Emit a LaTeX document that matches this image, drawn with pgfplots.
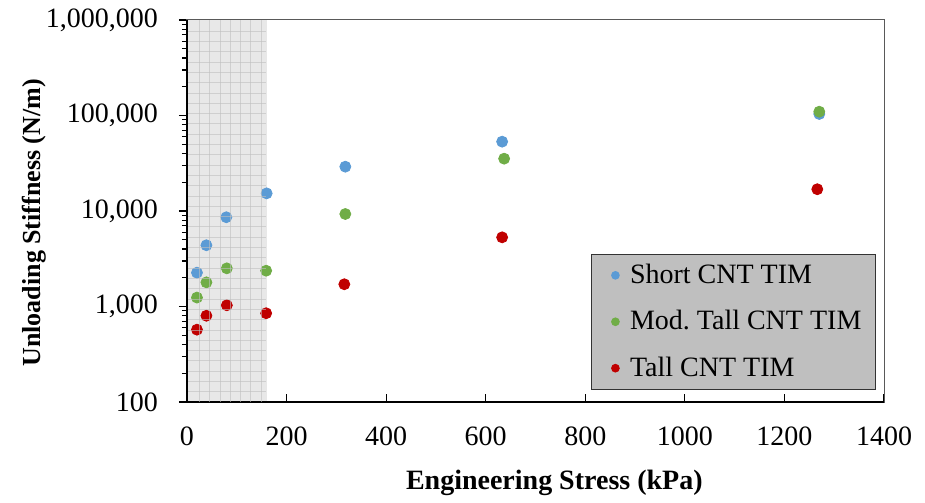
\documentclass[border=0pt]{standalone}
\usepackage{pgfplots}
\pgfplotsset{compat=1.18}
\usetikzlibrary{calc}
\usepackage{fontspec}
\setmainfont{Liberation Serif}

\definecolor{shortc}{RGB}{91,155,213}
\definecolor{modc}{RGB}{112,173,71}
\definecolor{tallc}{RGB}{192,0,0}
\definecolor{legfill}{RGB}{191,191,191}

\begin{document}
\begin{tikzpicture}
\begin{axis}[
    scale only axis,
    width=348.5pt, height=191pt,
    xmin=0, xmax=1400,
    ymode=log, ymin=100, ymax=1000000,
    xtick={0,200,...,1400},
    ytick={100,1000,10000,100000,1000000},
    yticklabels={100,{1,000},{10,000},{100,000},{1,000,000}},
    xtick pos=bottom, ytick pos=left,
    xtick align=inside, ytick align=outside,
    major tick length=4pt, minor tick length=2.5pt,
    tick style={black, line width=0.6pt},
    ticklabel style={font=\fontsize{14}{16}\selectfont},
    x tick label style={/pgf/number format/assume math mode=true,
        /pgf/number format/1000 sep={}, yshift=-9pt},
    y tick label style={xshift=-7pt},
    axis line style={black!65, line width=0.5pt},
    clip=false,
    xlabel={Engineering Stress (kPa)},
    ylabel={Unloading Stiffness (N/m)},
    xlabel style={font=\bfseries\fontsize{14}{17}\selectfont,
        at={(rel axis cs:0.527,-0.212)}, anchor=center},
    ylabel style={font=\bfseries\fontsize{13}{16}\selectfont,
        at={(rel axis cs:-0.2195,0.469)}, anchor=center},
    legend style={at={(0.9885,0.0314)}, anchor=south east,
        fill=legfill, draw=black!80, line width=0.6pt,
        font=\fontsize{14}{16}\selectfont, row sep=8pt,
        inner xsep=5pt, inner ysep=3pt},
    legend cell align=left,
    legend image code/.code={
        \path[draw=none, fill=none] (-6.8pt,0pt) -- (5.3pt,0pt);
        \draw[#1, mark size=1.85pt] plot coordinates {(0pt,0pt)};},
]

% short
\addplot[only marks, mark=*, mark size=2.75pt, color=shortc]
    coordinates {(20,2260)(39,4380)(79,8600)(160,15300)(318,29100)(633,53200)(1270,103700)};
\addlegendentry{Short CNT TIM}

% moderately tall
\addplot[only marks, mark=*, mark size=2.75pt, color=modc]
    coordinates {(20,1240)(39,1790)(80,2510)(159,2370)(318,9300)(637,35300)(1270,109600)};
\addlegendentry{Mod.\ Tall CNT TIM}

% tall
\addplot[only marks, mark=*, mark size=2.75pt, color=tallc]
    coordinates {(20,572)(39,800)(80,1030)(159,850)(316,1710)(633,5300)(1266,16900)};
\addlegendentry{Tall CNT TIM}

% shaded low-stress zone
\fill[black!16, opacity=0.55] (axis cs:0,100) rectangle (axis cs:160,1000000);

\draw[black, line width=0.9pt] (rel axis cs:0,1) -- (rel axis cs:0,0) -- (rel axis cs:1,0);
\coordinate (O) at (rel axis cs:0,0);
\end{axis}
% grid texture on the shaded zone
\foreach \i in {0,...,6}
    \draw[black!25, line width=0.4pt, opacity=0.6]
        ($(O)+(6.15pt+\i*5.15pt,0)$) -- ++(0,191pt);
\foreach \i in {1,...,36}
    \draw[black!25, line width=0.4pt, opacity=0.6]
        ($(O)+(0.5pt,\i*5.15pt)$) -- ++(39pt,0);
\path (O) ++(-93.5pt,-48pt) rectangle ++(462.5pt,249pt);
\end{tikzpicture}
\end{document}
